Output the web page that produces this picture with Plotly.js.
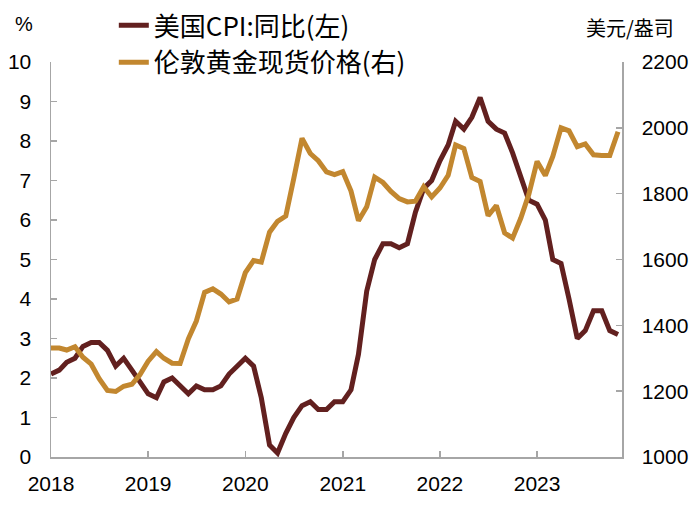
<!DOCTYPE html>
<html>
<head>
<meta charset="utf-8">
<script src="https://cdn.plot.ly/plotly-3.0.1.min.js"></script>
<style>html,body{margin:0;padding:0;background:#fff;}#chart{width:700px;height:505px;}</style>
</head>
<body>
<div id="chart"></div>
<script>
const months = [
'2018-01','2018-02','2018-03','2018-04','2018-05','2018-06','2018-07','2018-08','2018-09','2018-10','2018-11','2018-12',
'2019-01','2019-02','2019-03','2019-04','2019-05','2019-06','2019-07','2019-08','2019-09','2019-10','2019-11','2019-12',
'2020-01','2020-02','2020-03','2020-04','2020-05','2020-06','2020-07','2020-08','2020-09','2020-10','2020-11','2020-12',
'2021-01','2021-02','2021-03','2021-04','2021-05','2021-06','2021-07','2021-08','2021-09','2021-10','2021-11','2021-12',
'2022-01','2022-02','2022-03','2022-04','2022-05','2022-06','2022-07','2022-08','2022-09','2022-10','2022-11','2022-12',
'2023-01','2023-02','2023-03','2023-04','2023-05','2023-06','2023-07','2023-08','2023-09','2023-10','2023-11'];

const cpiYoY = [
2.1,2.2,2.4,2.5,2.8,2.9,2.9,2.7,2.3,2.5,2.2,1.9,
1.6,1.5,1.9,2.0,1.8,1.6,1.8,1.7,1.7,1.8,2.1,2.3,
2.5,2.3,1.5,0.3,0.1,0.6,1.0,1.3,1.4,1.2,1.2,1.4,
1.4,1.7,2.6,4.2,5.0,5.4,5.4,5.3,5.4,6.2,6.8,7.0,
7.5,7.9,8.5,8.3,8.6,9.1,8.5,8.3,8.2,7.7,7.1,6.5,
6.4,6.0,5.0,4.9,4.0,3.0,3.2,3.7,3.7,3.2,3.1];

const goldLondon = [
1331,1331,1325,1335,1303,1282,1238,1202,1199,1215,1221,1250,
1291,1320,1300,1285,1284,1359,1413,1500,1511,1495,1471,1480,
1560,1597,1592,1683,1716,1732,1846,1968,1922,1900,1866,1858,
1867,1808,1718,1760,1850,1834,1807,1785,1775,1777,1821,1790,
1817,1856,1948,1937,1849,1837,1733,1764,1681,1665,1726,1798,
1898,1855,1913,2000,1991,1943,1951,1918,1916,1916,1988];

const seriesNames = ['美国CPI:同比(左)', '伦敦黄金现货价格(右)'];
const leftTicks = [0,1,2,3,4,5,6,7,8,9,10];
const rightTicks = [1000,1200,1400,1600,1800,2000,2200];
const leftUnit = '%';
const rightUnit = '美元/盎司';

const numFont = 'Liberation Sans, Arial, sans-serif';
const cjkFont = 'Noto Sans CJK SC, Liberation Sans, sans-serif';
const axisCol = '#a6a6a6';

const traces = [
  {x: months, y: cpiYoY, name: seriesNames[0], type: 'scatter', mode: 'lines',
   line: {color: '#62201f', width: 5}, yaxis: 'y'},
  {x: months, y: goldLondon, name: seriesNames[1], type: 'scatter', mode: 'lines',
   line: {color: '#c2872f', width: 5}, yaxis: 'y2'}
];

const layout = {
  width: 700, height: 505,
  margin: {l: 51, r: 78, t: 62, b: 48, autoexpand: false},
  paper_bgcolor: '#fff', plot_bgcolor: '#fff',
  showlegend: true,
  legend: {x: 0.11, xanchor: 'left', y: 1.152, yanchor: 'top',
    bgcolor: 'rgba(0,0,0,0)', font: {family: cjkFont, size: 26, color: '#000'},
    tracegroupgap: 0, itemwidth: 30},
  xaxis: {type: 'date', range: ['2018-01-01', '2023-11-16'],
    tick0: '2018-01-01', dtick: 'M12', tickformat: '%Y',
    showgrid: false, zeroline: false, showline: true, linecolor: axisCol, linewidth: 1.5,
    ticks: 'inside', ticklen: 6, tickwidth: 1.5, tickcolor: axisCol,
    tickfont: {family: numFont, size: 21, color: '#000'}, ticklabelstandoff: 7},
  yaxis: {range: [0, 10], tickvals: leftTicks, showgrid: false, zeroline: false,
    showline: true, linecolor: axisCol, linewidth: 1.5,
    ticks: 'inside', ticklen: 6, tickwidth: 1.5, tickcolor: axisCol,
    tickfont: {family: numFont, size: 21, color: '#000'}, ticklabelstandoff: 14},
  yaxis2: {range: [1000, 2200], tickvals: rightTicks, overlaying: 'y', side: 'right',
    showgrid: false, zeroline: false,
    showline: true, linecolor: axisCol, linewidth: 1.5,
    ticks: 'inside', ticklen: 6, tickwidth: 1.5, tickcolor: axisCol,
    tickfont: {family: numFont, size: 21, color: '#000'}, ticklabelstandoff: 14},
  annotations: [
    {text: leftUnit, xref: 'paper', yref: 'paper', x: -0.048, y: 1.095, xanchor: 'center', yanchor: 'middle',
     showarrow: false, font: {family: numFont, size: 20, color: '#000'}},
    {text: rightUnit, xref: 'paper', yref: 'paper', x: 1.014, y: 1.088, xanchor: 'center', yanchor: 'middle',
     showarrow: false, font: {family: cjkFont, size: 20, color: '#000'}}
  ]
};

Plotly.newPlot('chart', traces, layout, {displayModeBar: false, staticPlot: true});
</script>
</body>
</html>
